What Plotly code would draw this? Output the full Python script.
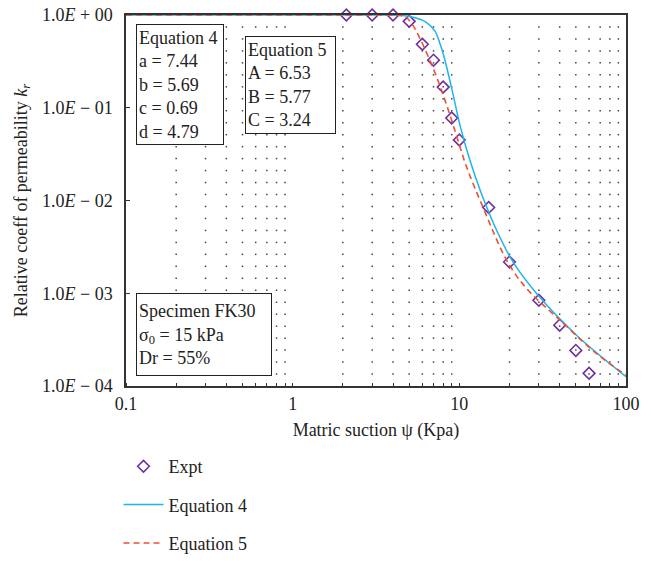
import plotly.graph_objects as go

# Experimental data
expt_x = [2.1, 3, 4, 5, 6, 7, 8, 9, 10, 15, 20, 30, 40, 50, 60]
expt_y = [1.0, 1.0, 1.0, 0.855, 0.484, 0.326, 0.167, 0.0775, 0.045,
          0.0084, 0.00217, 0.00084, 0.000453, 0.000242, 0.000137]

# Equation 4 curve
eq4_x = [0.1, 1, 3, 4, 5.05, 6.3, 7.13, 7.64, 8.19, 9.14, 10.14, 11.56, 13.54,
         16.71, 21.12, 29.6, 50.3, 100]
eq4_y = [1.0, 1.0, 1.0, 0.995, 0.962, 0.84, 0.675, 0.495, 0.327, 0.143, 0.0625,
         0.0273, 0.01196, 0.00481, 0.002135, 0.000957, 0.000355, 0.000126]

# Equation 5 curve
eq5_x = [0.1, 1, 3, 4.1, 4.72, 5.17, 5.8, 6.51, 7.3, 8.19, 8.98, 9.84, 11.04,
         13.88, 19.6, 25.8, 39.05, 66.3, 100]
eq5_y = [1.0, 1.0, 1.0, 0.998, 0.959, 0.814, 0.561, 0.355, 0.216, 0.1213, 0.0738,
         0.0437, 0.02314, 0.0084, 0.002135, 0.001084, 0.000537, 0.000225, 0.000131]

y_tickvals = [1, 0.1, 0.01, 0.001, 0.0001]
y_ticktext = ["1.0<i>E</i> + 00", "1.0<i>E</i> − 01", "1.0<i>E</i> − 02",
              "1.0<i>E</i> − 03", "1.0<i>E</i> − 04"]
x_tickvals = [0.1, 1, 10, 100]
x_ticktext = ["0.1", "1", "10", "100"]

FONT = "Liberation Serif"
FS = 18
fig = go.Figure()

# dotted background grid (dots at minor x ticks and even y steps)
gx, gy = [], []
for d in (-1, 0, 1):
    for k in range(2, 10):
        for j in range(1, 31):
            gx.append(k * 10 ** d)
            gy.append(10 ** (-4 * j / 31))
fig.add_trace(go.Scatter(x=gx, y=gy, mode="markers", showlegend=False, hoverinfo="skip",
                         marker=dict(symbol="square", size=1.5, color="#444")))

fig.add_trace(go.Scatter(x=expt_x, y=expt_y, mode="markers", name="Expt", legendgroup="a",
                         cliponaxis=False,
                         marker=dict(symbol="diamond-open", size=9, color="#7030A0",
                                     line=dict(width=1.6, color="#7030A0"))))
fig.add_trace(go.Scatter(x=eq4_x, y=eq4_y, mode="lines", name="Equation 4", legendgroup="b",
                         line=dict(color="#1CB5EC", width=1.5, shape="spline", smoothing=1)))
fig.add_trace(go.Scatter(x=eq5_x, y=eq5_y, mode="lines", name="Equation 5", legendgroup="c",
                         line=dict(color="#F04E30", width=1.6, dash="6px,4px", shape="spline",
                                   smoothing=1)))

L, R, T, B = 125.5, 626, 15, 386
W, H = R - L, B - T


def px(xp, yp):
    return (xp - L) / W, (B - yp) / H


boxes = [
    (136, 24.3, 88, 121.4, "Equation 4<br>a = 7.44<br>b = 5.69<br>c = 0.69<br>d = 4.79"),
    (245, 36, 91, 98.3, "Equation 5<br>A = 6.53<br>B = 5.77<br>C = 3.24"),
    (136, 292.7, 136, 83, "Specimen FK30<br>σ<sub>0</sub> = 15 kPa<br>Dr = 55%"),
]
for bx, by, bw, bh, txt in boxes:
    ax, ay = px(bx, by)
    fig.add_annotation(xref="paper", yref="paper", x=ax, y=ay, xanchor="left", yanchor="top",
                       text=txt, showarrow=False, align="left", valign="middle",
                       width=bw - 6, height=bh - 6, borderpad=2, borderwidth=1,
                       bordercolor="#222", bgcolor="white",
                       font=dict(family=FONT, size=FS, color="#222"))

fig.update_xaxes(type="log", range=[-1, 2], tickvals=x_tickvals, ticktext=x_ticktext,
                 ticks="", showgrid=False, zeroline=False, showline=True, linecolor="#333",
                 linewidth=1.5, mirror=True, ticklabelstandoff=1, automargin=False,
                 minor=dict(ticks="inside", ticklen=3, tickcolor="#333", dtick="D1", showgrid=False),
                 tickfont=dict(family=FONT, size=FS, color="#222"),
                 title=dict(text="Matric suction ψ (Kpa)", standoff=10,
                            font=dict(family=FONT, size=FS, color="#222")))
fig.update_yaxes(type="log", range=[-4, 0], tickvals=y_tickvals, ticktext=y_ticktext,
                 ticks="inside", ticklen=4, tickcolor="#333", showgrid=False, zeroline=False,
                 showline=True, linecolor="#333", linewidth=1.5, mirror=True,
                 ticklabelstandoff=8, automargin=False,
                 tickfont=dict(family=FONT, size=FS, color="#222"),
                 title=dict(text="Relative coeff of permeability <i>k</i><sub><i>r</i></sub>",
                            standoff=10, font=dict(family=FONT, size=FS, color="#222")))

lx, ly = px(118, 448)
fig.update_layout(width=651, height=561,
                  margin=dict(l=L, r=651 - R, t=T, b=561 - B, autoexpand=False),
                  paper_bgcolor="white", plot_bgcolor="white",
                  legend=dict(x=lx, y=ly, xanchor="left", yanchor="top", traceorder="grouped",
                              tracegroupgap=12, itemwidth=40,
                              font=dict(family=FONT, size=FS, color="#222"),
                              bgcolor="rgba(0,0,0,0)"))

fig.write_html("out.html")
